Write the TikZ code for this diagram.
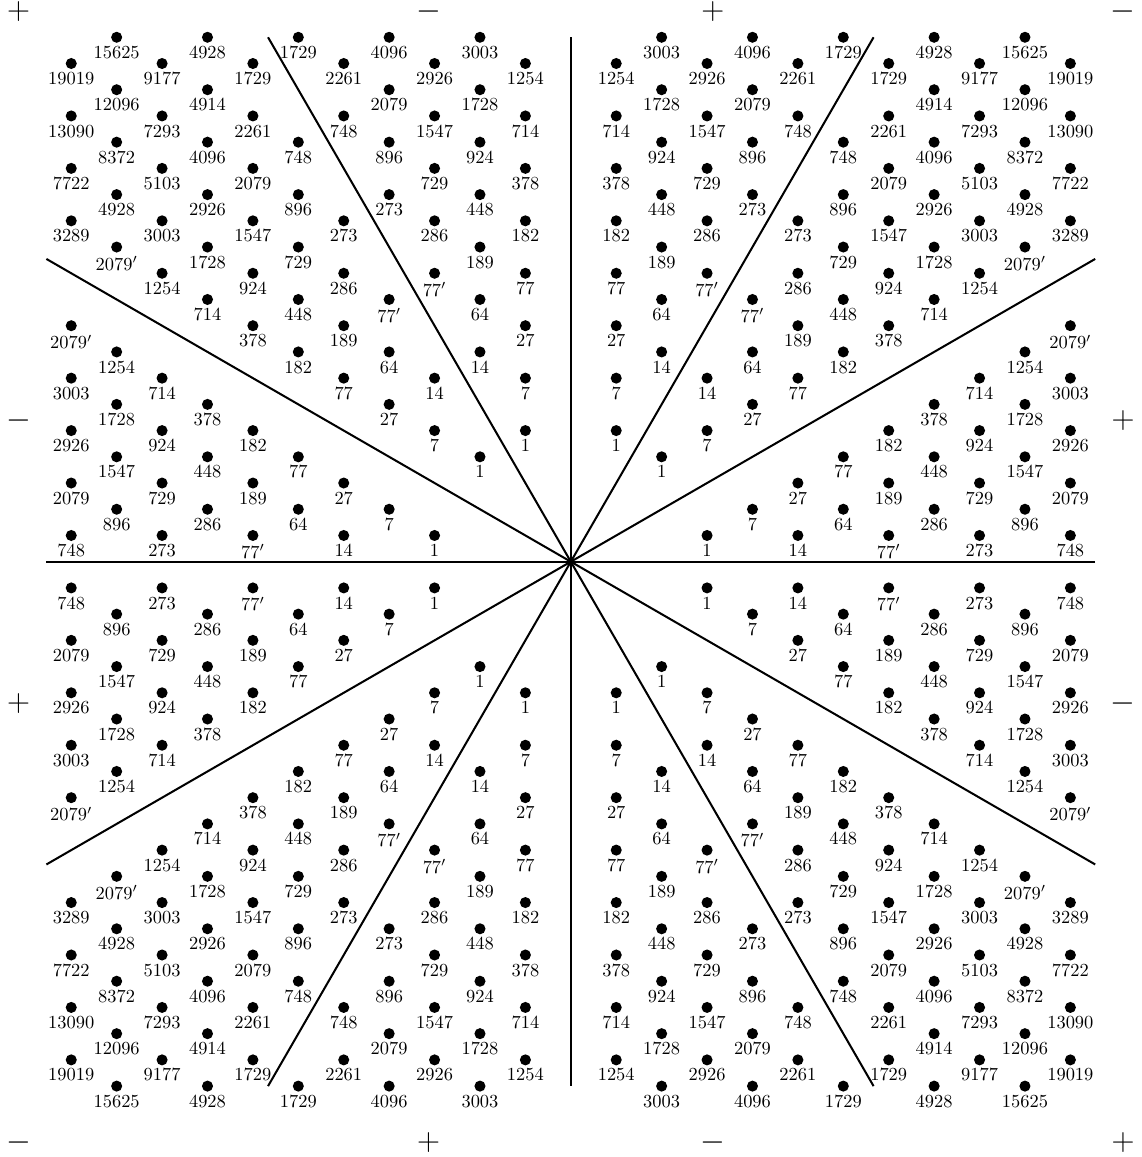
\documentclass[tikz,border=0pt]{standalone}
\usetikzlibrary{positioning}

\begin{document}
\begin{tikzpicture}[
    dot/.style={circle, fill=black, inner sep=0pt, minimum size=6pt},
    lbl/.style={anchor=north, inner sep=1.6pt},
    wall/.style={line width=1.1pt, color=black},
    sgn/.style={font=\LARGE, inner sep=0pt},
]
\useasboundingbox (-10.885,-11.352) rectangle (10.892,10.711);

\coordinate (O) at (0,0);

% reflection walls, clipped to the square
\foreach \k/\x/\y/\xb/\yb in {0/10/0/-10/0, 1/10/5.7735/-10/-5.7735, 2/5.7735/10/-5.7735/-10,
    3/0/10/0/-10, 4/-5.7735/10/5.7735/-10, 5/-10/5.7735/10/-5.7735}{
  \coordinate (e\k) at (\x,\y);
  \coordinate (f\k) at (\xb,\yb);
  \draw[wall] (e\k) -- (O) -- (f\k);
}

% shifted weights with their dimensions
\foreach \p in {-11,...,11}{
  \foreach \q in {-20,...,20}{
    \ifodd\numexpr\p+\q\relax\else
      \edef\wprod{\the\numexpr(\p)*(\q)*((\q)-(\p))*((\q)+(\p))*((\q)-3*(\p))*((\q)+3*(\p))\relax}
      \ifnum\wprod=0 \else
        \ifnum\wprod<0 \edef\wprod{\the\numexpr-\wprod\relax}\fi
        \edef\wdim{\the\numexpr\wprod/1920\relax}
        \edef\wnorm{\the\numexpr3*(\p)*(\p)+(\q)*(\q)\relax}
        \def\wlab{\wdim}
        \ifnum\wdim=77 \ifnum\wnorm=148 \def\wlab{\wdim'}\fi\fi
        \ifnum\wdim=2079 \ifnum\wnorm=444 \def\wlab{\wdim'}\fi\fi
        \node[dot] (w\p x\q) at ({0.866025*\p},{0.5*\q}) {};
        \node[lbl] at (w\p x\q.south) {$\wlab$};
      \fi
    \fi
  }
}

% signs of the chambers
\foreach \k/\x/\y/\s in {0/10.53/2.70/+, 1/10.53/10.49/-, 2/2.71/10.49/+, 3/-2.71/10.49/-,
    4/-10.53/10.49/+, 5/-10.53/2.70/-, 6/-10.53/-2.70/+, 7/-10.53/-11.08/-,
    8/-2.71/-11.08/+, 9/2.71/-11.08/-, 10/10.53/-11.08/+, 11/10.53/-2.70/-}
  \node[sgn] (s\k) at (\x,\y) {$\s$};

\end{tikzpicture}
\end{document}
